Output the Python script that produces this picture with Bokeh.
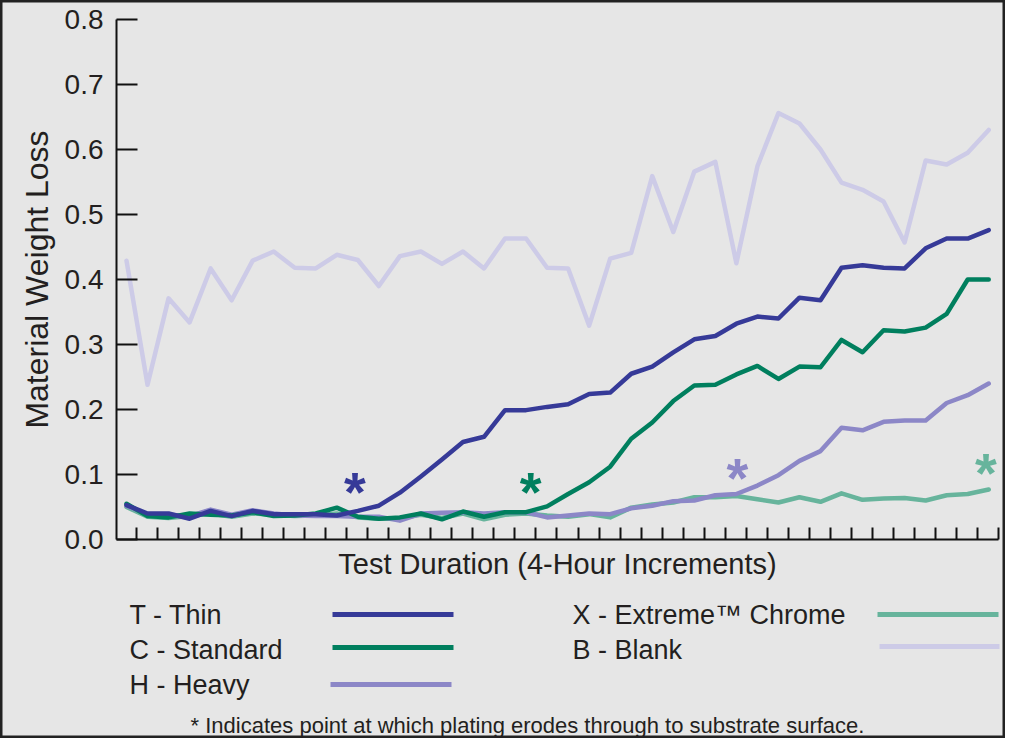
from bokeh.plotting import figure
from bokeh.models import FixedTicker, NumeralTickFormatter, Range1d, ColumnDataSource
from bokeh.core.properties import value
from bokeh.embed import file_html
from bokeh.resources import INLINE

# ---------------- data ----------------
periods = list(range(1, 43))

thin = [0.053, 0.040, 0.040, 0.032, 0.044, 0.036, 0.044, 0.039, 0.039, 0.039,
        0.037, 0.044, 0.052, 0.072, 0.097, 0.123, 0.150, 0.158, 0.199, 0.199,
        0.204, 0.208, 0.224, 0.226, 0.255, 0.266, 0.288, 0.308, 0.313, 0.332,
        0.343, 0.340, 0.372, 0.368, 0.418, 0.422, 0.418, 0.417, 0.448, 0.463,
        0.463, 0.476]
standard = [0.055, 0.036, 0.034, 0.040, 0.038, 0.037, 0.042, 0.036, 0.037, 0.040,
            0.049, 0.035, 0.032, 0.034, 0.040, 0.031, 0.043, 0.035, 0.042, 0.042,
            0.051, 0.070, 0.088, 0.112, 0.155, 0.180, 0.213, 0.237, 0.238, 0.254,
            0.267, 0.247, 0.266, 0.265, 0.307, 0.288, 0.322, 0.320, 0.326, 0.347,
            0.400, 0.400]
heavy = [0.052, 0.038, 0.038, 0.036, 0.046, 0.038, 0.045, 0.040, 0.037, 0.036,
         0.036, 0.035, 0.035, 0.029, 0.040, 0.041, 0.042, 0.040, 0.042, 0.042,
         0.034, 0.037, 0.040, 0.039, 0.048, 0.052, 0.059, 0.060, 0.068, 0.070,
         0.083, 0.099, 0.121, 0.136, 0.172, 0.168, 0.181, 0.183, 0.183, 0.210,
         0.222, 0.240]
extreme = [0.050, 0.035, 0.033, 0.036, 0.040, 0.035, 0.040, 0.038, 0.036, 0.037,
           0.040, 0.034, 0.032, 0.033, 0.038, 0.033, 0.040, 0.031, 0.038, 0.040,
           0.037, 0.035, 0.039, 0.034, 0.049, 0.054, 0.057, 0.065, 0.065, 0.067,
           0.062, 0.057, 0.065, 0.058, 0.071, 0.061, 0.063, 0.064, 0.060, 0.068,
           0.070, 0.077]
blank = [0.429, 0.238, 0.371, 0.334, 0.417, 0.368, 0.429, 0.443, 0.418, 0.417,
         0.438, 0.430, 0.390, 0.436, 0.443, 0.424, 0.443, 0.417, 0.463, 0.463,
         0.418, 0.417, 0.329, 0.432, 0.441, 0.559, 0.473, 0.566, 0.581, 0.425,
         0.574, 0.656, 0.640, 0.600, 0.549, 0.538, 0.520, 0.457, 0.583, 0.577,
         0.595, 0.630]

# erosion-through points (asterisks)
erode_x = [11.86, 20.22, 30.05, 41.86]
erode_y = [0.088, 0.087, 0.110, 0.117]

series_names = ["T - Thin", "C - Standard", "H - Heavy", "X - Extreme\u2122 Chrome", "B - Blank"]
y_ticks = [0.0, 0.1, 0.2, 0.3, 0.4, 0.5, 0.6, 0.7, 0.8]
x_title = "Test Duration (4-Hour Increments)"
y_title = "Material Weight Loss"
footnote = "Indicates point at which plating erodes through to substrate surface."

# ---------------- style ----------------
BG = "#e6e6e6"
TXT = "#231f20"
FONT = "Liberation Sans"
C_THIN = "#363a98"
C_STD = "#007f5e"
C_HEAVY = "#8c87c7"
C_EXT = "#67b49c"
C_BLANK = "#cdcbe7"
SERIES_COLORS = [C_THIN, C_STD, C_HEAVY, C_EXT, C_BLANK]

W, H = 1005, 738
# layout geometry (canvas pixels): first period at x=126, step 21.03; value 0 at y=539, 650 px per unit
X0_PX, DX_PX = 126.0, 21.03
Y0_PX, DY_PX = 539.0, 650.0


def px2x(px):
    return 1 + (px - X0_PX) / DX_PX


def px2y(py):
    return (Y0_PX - py) / DY_PX


p = figure(width=W, height=H, output_backend="svg", toolbar_location=None,
           x_range=Range1d(px2x(0), px2x(W)), y_range=Range1d(px2y(H), px2y(0)),
           min_border=0)
p.background_fill_color = BG
p.border_fill_color = BG
p.outline_line_color = "#222222"
p.outline_line_width = 4
p.xgrid.grid_line_color = None
p.ygrid.grid_line_color = None

x_left = px2x(116)
x_right = px2x(998)

# axes at fixed positions
p.yaxis.fixed_location = x_left
p.yaxis.bounds = (0.0, 0.8)
p.yaxis.ticker = FixedTicker(ticks=y_ticks)
p.yaxis.formatter = NumeralTickFormatter(format="0.0")
p.yaxis.major_tick_in = 21
p.yaxis.major_tick_out = 0
p.yaxis.minor_tick_line_color = None
p.yaxis.major_label_text_font = FONT
p.yaxis.major_label_text_font_size = "28px"
p.yaxis.major_label_text_color = TXT
p.yaxis.major_label_standoff = 13
p.yaxis.axis_label = y_title
p.yaxis.axis_label_text_font = FONT
p.yaxis.axis_label_text_font_size = "32px"
p.yaxis.axis_label_text_font_style = "normal"
p.yaxis.axis_label_text_color = TXT
p.yaxis.axis_label_standoff = 7

p.xaxis.fixed_location = 0.0
p.xaxis.bounds = (x_left, x_right + 0.01)
p.xaxis.ticker = FixedTicker(ticks=[], minor_ticks=[i + 0.47 for i in periods])
p.xaxis.major_tick_line_color = None
p.xaxis.minor_tick_in = 12
p.xaxis.minor_tick_out = 0
p.xaxis.major_label_standoff = 0
p.xaxis.axis_label = x_title
p.xaxis.axis_label_text_font = FONT
p.xaxis.axis_label_text_font_size = "29px"
p.xaxis.axis_label_text_font_style = "normal"
p.xaxis.axis_label_text_color = TXT
p.xaxis.axis_label_standoff = 8

for ax in (p.xaxis, p.yaxis):
    ax.axis_line_color = "#111111"
    ax.axis_line_width = 2
p.yaxis.major_tick_line_color = "#111111"
p.yaxis.major_tick_line_width = 2
p.xaxis.minor_tick_line_color = "#111111"
p.xaxis.minor_tick_line_width = 2

# lines (drawing order: blank, extreme, heavy, standard, thin)
for ys, col in [(blank, C_BLANK), (extreme, C_EXT), (heavy, C_HEAVY), (standard, C_STD), (thin, C_THIN)]:
    p.line(periods, ys, line_color=col, line_width=4.5, line_join="round", line_cap="round")

src = ColumnDataSource(dict(x=erode_x, y=erode_y, t=["*"] * 4,
                            c=[C_THIN, C_STD, C_HEAVY, C_EXT]))
p.text(x="x", y="y", text="t", source=src, text_color="c",
       text_font=value(FONT), text_font_size="56px", text_font_style="bold",
       text_align="center", text_baseline="alphabetic", y_offset=9)

# ---------------- legend (below the axes) ----------------
lab_px = [129, 129, 129, 572, 572]
lab_py = [614, 649, 684, 614, 649]
p.text(x=[px2x(v) for v in lab_px], y=[px2y(v) for v in lab_py], text=series_names,
       text_font=value(FONT), text_font_size="27px", text_color=TXT,
       text_align="left", text_baseline="middle")
seg_px0 = [332, 332, 330, 877, 879]
seg_px1 = [453, 453, 451, 998, 999]
seg_py = [614, 647, 684, 614, 646]
p.segment(x0=[px2x(v) for v in seg_px0], y0=[px2y(v) for v in seg_py],
          x1=[px2x(v) for v in seg_px1], y1=[px2y(v) for v in seg_py],
          line_color=SERIES_COLORS, line_width=5)
p.text(x=[px2x(527)], y=[px2y(725)], text=["* " + footnote], text_font=value(FONT),
       text_font_size="22px", text_color=TXT, text_align="center", text_baseline="middle")

open("out.html", "w").write(file_html(p, INLINE))
